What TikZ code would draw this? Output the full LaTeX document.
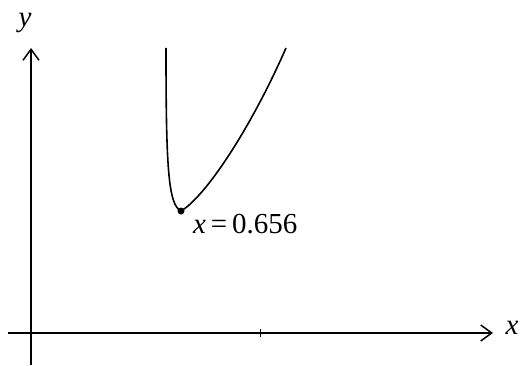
\documentclass[tikz,border=0pt]{standalone}
\usepackage{fontspec}
\setmainfont{Liberation Serif}
\usetikzlibrary{
    positioning,
    arrows.meta
}

\begin{document}
\begin{tikzpicture}[
    x=1pt, y=1pt,
    font=\fontsize{29}{31}\selectfont,
    axis/.style={line width=1.5pt, -{Straight Barb[length=11pt, width=16pt, line width=1.5pt]}},
    curveline/.style={line width=1.6pt},
    axislabel/.style={inner sep=0pt, font=\fontsize{29}{31}\selectfont\itshape},
    minlabel/.style={anchor=base west, inner sep=0pt}
]
\useasboundingbox (0,0) rectangle (520,365);

% Axes
\coordinate (origin) at (31,32);
\coordinate (xstart) at (8,32);
\coordinate (xend) at (493,32);
\coordinate (ystart) at (31,0);
\coordinate (yend) at (31,317);
\draw[axis] (xstart) -- (xend);
\draw[axis] (ystart) -- (yend);
\node[axislabel] (xlbl) at (512,37) {x};
\node[axislabel] (ylbl) at (25,342) {y};

% Tick on the x-axis
\coordinate (tick) at (260,32);
\draw[line width=1pt] ([yshift=-4pt]tick) -- ([yshift=4pt]tick);

% Curve with its minimum
\coordinate (minpt) at (181,154);
\coordinate (lefttop) at (166,317);
\coordinate (righttop) at (286,317);
\draw[curveline] (lefttop) .. controls (166,200) and (168,160) .. (minpt)
    .. controls (205,168) and (250,235) .. (righttop);
\fill (minpt) circle (3.5pt);
\node[minlabel] (minlbl) at (193,132) {\textit{x}\,=\,0.656};

\end{tikzpicture}
\end{document}
